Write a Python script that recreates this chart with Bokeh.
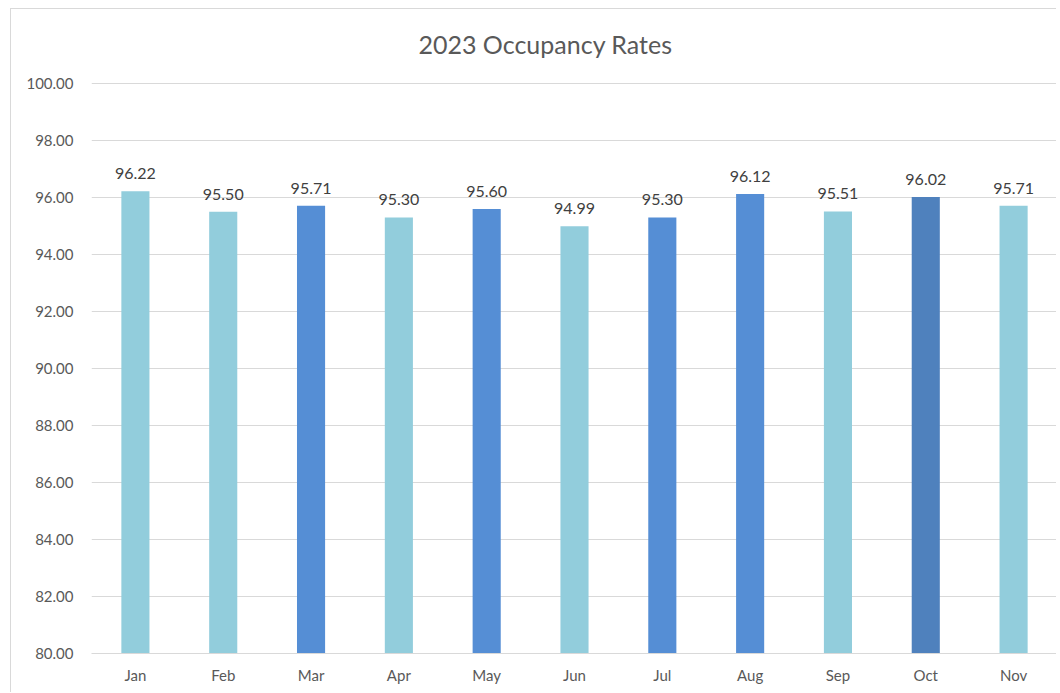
from bokeh.plotting import figure
from bokeh.models import ColumnDataSource, Range1d, Label, FixedTicker, CustomJSTickFormatter
from bokeh.core.properties import value
from bokeh.embed import file_html
from bokeh.resources import INLINE

months = ["Jan", "Feb", "Mar", "Apr", "May", "Jun", "Jul", "Aug", "Sep", "Oct", "Nov"]
rates = [96.22, 95.50, 95.71, 95.30, 95.60, 94.99, 95.30, 96.12, 95.51, 96.02, 95.71]
colors = ["#92CDDC", "#92CDDC", "#558ED5", "#92CDDC", "#558ED5", "#92CDDC",
          "#558ED5", "#558ED5", "#92CDDC", "#4F81BD", "#92CDDC"]
y_ticks = [80, 82, 84, 86, 88, 90, 92, 94, 96, 98, 100]
title_text = "2023 Occupancy Rates"

src = ColumnDataSource(dict(m=months, r=rates, c=colors,
                            lbl=["%.2f" % v for v in rates]))

FONT = "Lato"

# y range extended above 100 to leave room for the title inside the frame
p = figure(x_range=months, y_range=Range1d(80, 102.246), width=1046, height=684,
           output_backend="svg", toolbar_location=None,
           min_border_left=80, min_border_right=0, min_border_top=10, min_border_bottom=40)
p.margin = (8, 0, 0, 10)
p.styles = {"border-top": "1px solid #d9d9d9", "border-left": "1px solid #d9d9d9"}

p.add_layout(Label(x=5.17, y=101.40, text=title_text,
                   text_align="center", text_baseline="middle",
                   text_font=FONT, text_font_size="25px", text_color="#595959"))

p.vbar(x="m", top="r", bottom=80, width=0.32, color="c", line_color=None, source=src)
p.text(x="m", y="r", text="lbl", source=src, text_align="center", text_baseline="bottom",
       y_offset=-12, text_font=value(FONT), text_font_size="16px", text_color="#404040")

p.outline_line_color = None
p.xgrid.grid_line_color = None
p.ygrid.grid_line_color = "#d9d9d9"
p.ygrid.grid_line_width = 1
p.yaxis.ticker = FixedTicker(ticks=y_ticks)
p.yaxis.formatter = CustomJSTickFormatter(code="return tick.toFixed(2);")
for ax in (p.xaxis, p.yaxis):
    ax.axis_line_color = None
    ax.major_tick_line_color = None
    ax.minor_tick_line_color = None
    ax.major_label_text_font = FONT
    ax.major_label_text_font_size = "15px"
    ax.major_label_text_color = "#595959"
p.xaxis.axis_line_color = "#d9d9d9"
p.yaxis.major_label_standoff = 12
p.xaxis.major_label_standoff = 6
p.x_range.range_padding = 0

open("out.html", "w").write(file_html(p, INLINE))
